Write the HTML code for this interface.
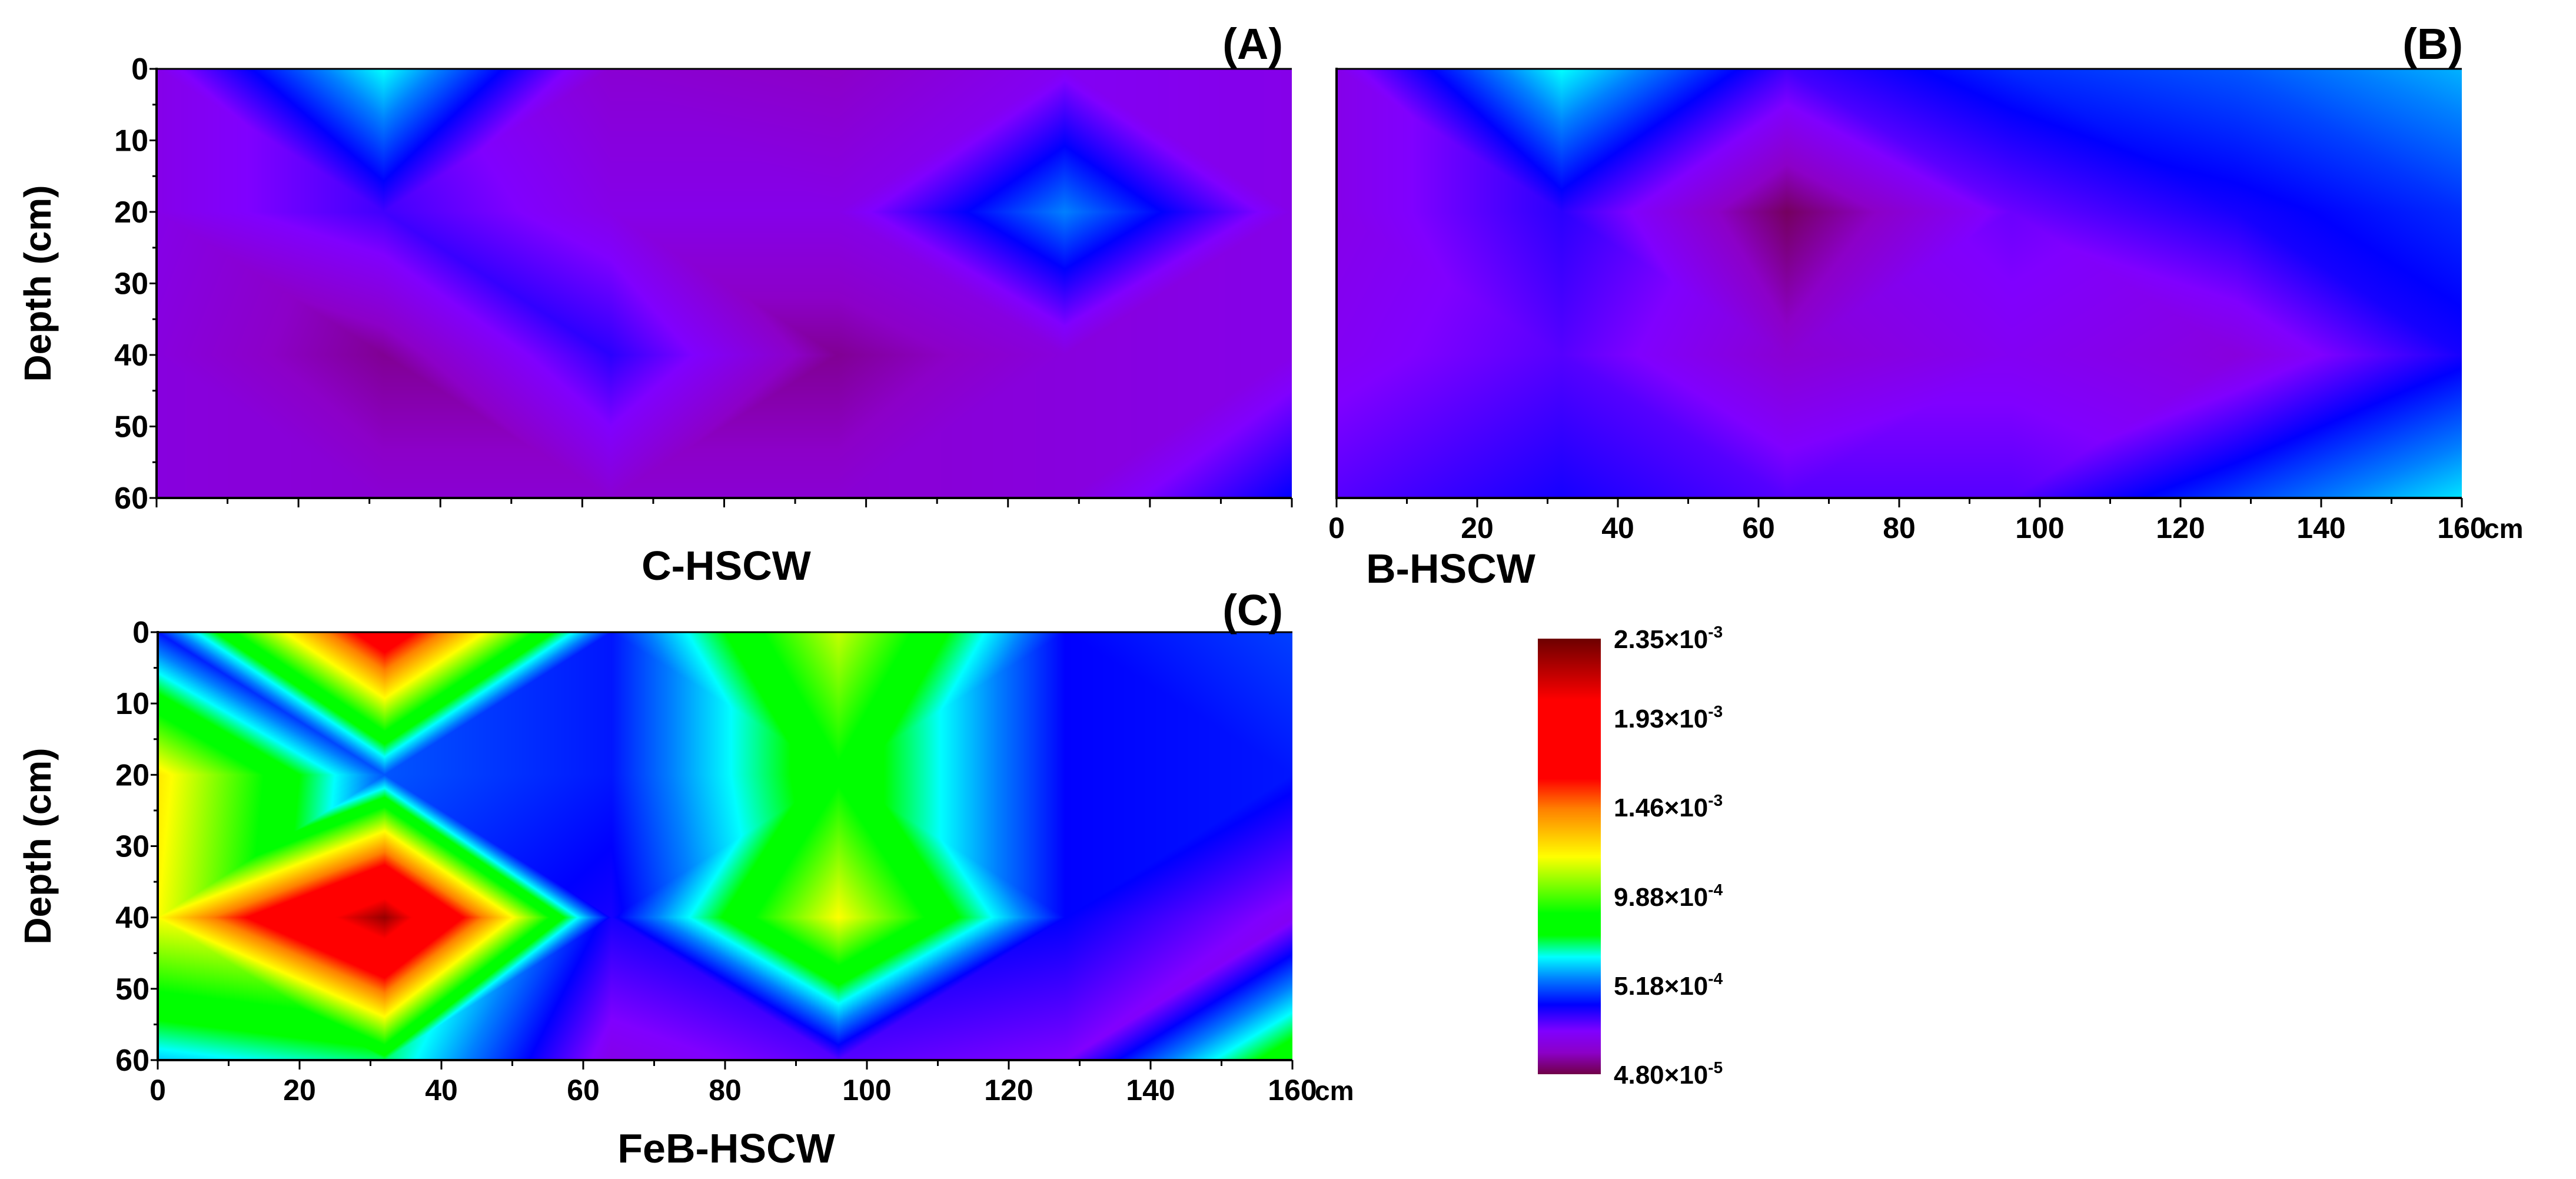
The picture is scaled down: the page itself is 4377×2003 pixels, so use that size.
<!DOCTYPE html>
<html><head><meta charset="utf-8">
<style>
html,body{margin:0;padding:0;background:#fff;}
#root{position:relative;width:4377px;height:2003px;overflow:hidden;background:#fff;}
canvas{position:absolute;}
svg{position:absolute;left:0;top:0;}
text{font-family:"Liberation Sans Narrow","Liberation Sans",sans-serif;font-weight:bold;fill:#000;}
</style></head>
<body>
<div id="root">
<canvas id="cA"></canvas>
<canvas id="cB"></canvas>
<canvas id="cC"></canvas>
<canvas id="cBar"></canvas>
<svg id="ov" width="4377" height="2003"></svg>
</div>
<script>
// grid definition
const xCoords = [0, 32, 64, 96, 128, 160];
const depthCoords = [0, 20, 40, 60];
// normalized values (0 = 4.80e-5, 1 = 2.35e-3), rows = depth
const gridA = [
  [0.08, 0.27, 0.06, 0.05, 0.09, 0.08],
  [0.08, 0.13, 0.08, 0.08, 0.22, 0.08],
  [0.07, 0.03, 0.14, 0.03, 0.07, 0.08],
  [0.07, 0.06, 0.06, 0.06, 0.07, 0.16]
];
const gridB = [
  [0.08, 0.27, 0.13, 0.18, 0.20, 0.24],
  [0.08, 0.14, 0.01, 0.11, 0.15, 0.18],
  [0.09, 0.12, 0.06, 0.09, 0.07, 0.15],
  [0.12, 0.15, 0.12, 0.12, 0.19, 0.26]
];
const gridC = [
  [0.17, 0.76, 0.17, 0.47, 0.16, 0.19],
  [0.52, 0.20, 0.17, 0.36, 0.16, 0.17],
  [0.50, 0.96, 0.15, 0.50, 0.16, 0.09],
  [0.25, 0.30, 0.08, 0.12, 0.10, 0.36]
];
const yTicks = [0, 10, 20, 30, 40, 50, 60];
const xTicks = [0, 20, 40, 60, 80, 100, 120, 140, 160];
const cbLabels = ["2.35", "1.93", "1.46", "9.88", "5.18", "4.80"];
const cbExps = ["-3", "-3", "-3", "-4", "-4", "-5"];
const cbValues = [2.35e-3, 1.93e-3, 1.46e-3, 9.88e-4, 5.18e-4, 4.80e-5];

const vMin = 4.80e-5, vMax = 2.35e-3;
const cmapStops = [
  [0.00, [112, 0, 70]], [0.05, [140, 0, 200]], [0.10, [128, 0, 255]],
  [0.16, [0, 0, 255]], [0.22, [0, 128, 255]], [0.27, [0, 255, 255]],
  [0.32, [0, 255, 0]], [0.37, [0, 255, 0]], [0.50, [255, 255, 0]],
  [0.61, [255, 128, 0]], [0.68, [255, 0, 0]], [0.86, [255, 0, 0]],
  [1.00, [110, 0, 0]]
];
function cmap(t) {
  t = Math.max(0, Math.min(1, t));
  for (let i = 1; i < cmapStops.length; i++) {
    if (t <= cmapStops[i][0]) {
      const a = cmapStops[i - 1], b = cmapStops[i];
      const f = (t - a[0]) / (b[0] - a[0]);
      return [0, 1, 2].map(k => a[1][k] + (b[1][k] - a[1][k]) * f);
    }
  }
  return cmapStops[cmapStops.length - 1][1];
}
function sample(grid, xv, dv) {
  let i = 0; while (i < xCoords.length - 2 && xv > xCoords[i + 1]) i++;
  let j = 0; while (j < depthCoords.length - 2 && dv > depthCoords[j + 1]) j++;
  const u = (xv - xCoords[i]) / (xCoords[i + 1] - xCoords[i]);
  const v = (dv - depthCoords[j]) / (depthCoords[j + 1] - depthCoords[j]);
  const a = grid[j][i], b = grid[j][i + 1], c = grid[j + 1][i], d = grid[j + 1][i + 1];
  const m = (a + b + c + d) / 4;
  const dev = [Math.abs(a - m), Math.abs(b - m), Math.abs(c - m), Math.abs(d - m)];
  const ext = dev.indexOf(Math.max(...dev));
  if (ext === 0 || ext === 3) {
    if (u + v <= 1) return a + (b - a) * u + (c - a) * v;
    return d + (c - d) * (1 - u) + (b - d) * (1 - v);
  } else {
    if (u >= v) return a + (b - a) * u + (d - b) * v;
    return a + (c - a) * v + (d - c) * u;
  }
}
const panels = [
  {id: 'cA', grid: gridA, x0: 266, x1: 2195, y0: 117, y1: 846},
  {id: 'cB', grid: gridB, x0: 2271, x1: 4183, y0: 117, y1: 846},
  {id: 'cC', grid: gridC, x0: 268, x1: 2196, y0: 1074, y1: 1801}
];
panels.forEach(p => {
  const cv = document.getElementById(p.id);
  const w = p.x1 - p.x0, h = p.y1 - p.y0;
  cv.width = w; cv.height = h;
  cv.style.left = p.x0 + 'px'; cv.style.top = p.y0 + 'px';
  const ctx = cv.getContext('2d');
  const img = ctx.createImageData(w, h);
  for (let y = 0; y < h; y++) {
    const dv = (y + 0.5) / h * 60;
    for (let x = 0; x < w; x++) {
      const xv = (x + 0.5) / w * 160;
      const col = cmap(sample(p.grid, xv, dv));
      const k = (y * w + x) * 4;
      img.data[k] = col[0]; img.data[k + 1] = col[1]; img.data[k + 2] = col[2]; img.data[k + 3] = 255;
    }
  }
  ctx.putImageData(img, 0, 0);
});
// colorbar
const cb = {x0: 2613, x1: 2720, y0: 1085, y1: 1825};
(function () {
  const cv = document.getElementById('cBar');
  const w = cb.x1 - cb.x0, h = cb.y1 - cb.y0;
  cv.width = w; cv.height = h; cv.style.left = cb.x0 + 'px'; cv.style.top = cb.y0 + 'px';
  const ctx = cv.getContext('2d');
  for (let y = 0; y < h; y++) {
    const c = cmap(1 - y / h);
    ctx.fillStyle = 'rgb(' + c.map(Math.round).join(',') + ')';
    ctx.fillRect(0, y, w, 1);
  }
})();
// overlay
const NS = 'http://www.w3.org/2000/svg';
const ov = document.getElementById('ov');
function el(tag, attrs, txt) {
  const e = document.createElementNS(NS, tag);
  for (const k in attrs) e.setAttribute(k, attrs[k]);
  if (txt !== undefined) e.textContent = txt;
  ov.appendChild(e);
  return e;
}
panels.forEach((p, pi) => {
  const sx = v => p.x0 + v / 160 * (p.x1 - p.x0);
  const sy = v => p.y0 + v / 60 * (p.y1 - p.y0);
  let e = el('line', {x1: p.x0, y1: p.y0, x2: p.x1, y2: p.y0, stroke: '#000', 'stroke-width': 3});
   
  e = el('line', {x1: p.x0, y1: p.y0 - 2, x2: p.x0, y2: p.y1 + 2, stroke: '#000', 'stroke-width': 4});
   
  e = el('line', {x1: p.x0 - 2, y1: p.y1, x2: p.x1, y2: p.y1, stroke: '#000', 'stroke-width': 4});
   
  if (pi !== 1) {
    yTicks.forEach(t => {
      const lab = el('text', {x: p.x0 - 14, y: sy(t) + 18, 'font-size': 52, 'text-anchor': 'end'}, String(t));
       
    });
    for (let t = 0; t <= 60; t += 5) {
      const tk = el('line', {x1: p.x0, y1: sy(t), x2: p.x0 - (t % 10 === 0 ? 12 : 7), y2: sy(t), stroke: '#000', 'stroke-width': 3});
       
    }
    const yt = el('text', {x: 0, y: 0, 'font-size': 64, 'text-anchor': 'middle', transform: 'translate(86,' + (p.y0 + p.y1) / 2 + ') rotate(-90)', style: 'font-family:"Liberation Sans",sans-serif'}, 'Depth (cm)');
     
  }
  for (let t = 0; t <= 160; t += 10) {
    const tk = el('line', {x1: sx(t), y1: p.y1, x2: sx(t), y2: p.y1 + (t % 20 === 0 ? 16 : 10), stroke: '#000', 'stroke-width': 3});
     
  }
  if (pi !== 0) {
    xTicks.forEach(t => {
      const lab = el('text', {x: sx(t), y: p.y1 + 68, 'font-size': 50, 'text-anchor': 'middle'}, String(t));
       
    });
    const cm = el('text', {x: p.x1 + 38, y: p.y1 + 68, 'font-size': 46}, 'cm');
     
  }
});
const titles = [
  ['C-HSCW', 1234, 985, 'x-axis-title-a'], ['B-HSCW', 2465, 990, 'x-axis-title-b'], ['FeB-HSCW', 1234, 1975, 'x-axis-title-c']
];
titles.forEach(t => {
  const e = el('text', {x: t[1], y: t[2], 'font-size': 70, 'text-anchor': 'middle'}, t[0]);
   
});
const tags = [['(A)', 2180, 100, 'panel-label-a'], ['(B)', 4185, 100, 'panel-label-b'], ['(C)', 2180, 1062, 'panel-label-c']];
tags.forEach(t => {
  const e = el('text', {x: t[1], y: t[2], 'font-size': 74, 'text-anchor': 'end'}, t[0]);
   
});
const cbY = v => cb.y1 - (v - vMin) / (vMax - vMin) * (cb.y1 - cb.y0);
cbLabels.forEach((l, i) => {
  const t = el('text', {x: 2742, y: cbY(cbValues[i]) + 16, 'font-size': 44});
   
  const s1 = document.createElementNS(NS, 'tspan'); s1.textContent = l + '×10'; t.appendChild(s1);
  const s2 = document.createElementNS(NS, 'tspan'); s2.setAttribute('dy', -18); s2.setAttribute('font-size', 28); s2.textContent = cbExps[i]; t.appendChild(s2);
});
</script>
</body></html>
